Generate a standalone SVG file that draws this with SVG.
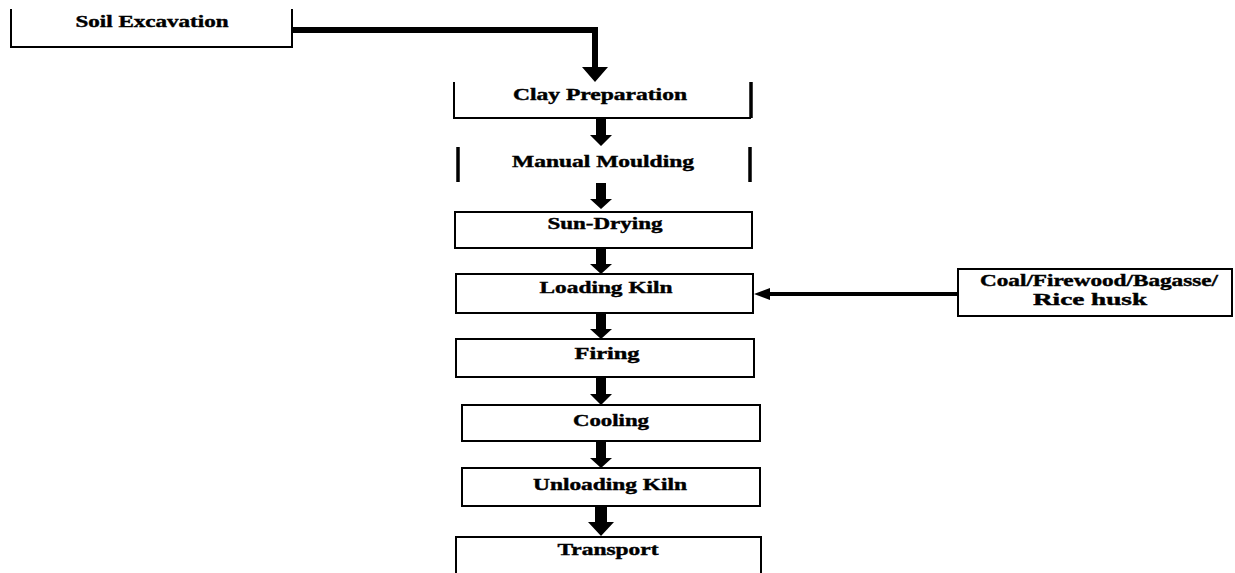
<svg xmlns="http://www.w3.org/2000/svg" width="1235" height="573" viewBox="0 0 1235 573">
<style>
  .bx{fill:none;stroke:#000;stroke-width:2}
  .thick{fill:none;stroke:#000;stroke-width:3.5}
  .t{font-family:"Liberation Serif","Times New Roman",serif;font-weight:bold;font-size:16px;fill:#000;stroke:#000;stroke-width:0.4;text-anchor:middle}
  .ar{fill:#000}
</style>
<rect width="1235" height="573" fill="#fff"/>
<g id="node-soil">
  <polyline class="bx" points="11,9 11,47 292,47 292,9"/>
  <text class="t" x="152" y="27" textLength="153" lengthAdjust="spacingAndGlyphs">Soil Excavation</text>
</g>
<g id="node-clay">
  <polyline class="bx" points="454,82 454,118 751,118"/>
  <line class="thick" x1="751" y1="82" x2="751" y2="118"/>
  <text class="t" x="600" y="100" textLength="174" lengthAdjust="spacingAndGlyphs">Clay Preparation</text>
</g>
<g id="node-moulding">
  <line class="thick" x1="458" y1="147" x2="458" y2="182"/>
  <line class="thick" x1="750" y1="147" x2="750" y2="182"/>
  <text class="t" x="603" y="167" textLength="182" lengthAdjust="spacingAndGlyphs">Manual Moulding</text>
</g>
<g id="node-sundrying">
  <rect class="bx" x="455" y="212" width="297" height="36"/>
  <text class="t" x="605" y="229" textLength="115" lengthAdjust="spacingAndGlyphs">Sun-Drying</text>
</g>
<g id="node-loading">
  <rect class="bx" x="456" y="274" width="297" height="39"/>
  <text class="t" x="606" y="293" textLength="133" lengthAdjust="spacingAndGlyphs">Loading Kiln</text>
</g>
<g id="node-fuel">
  <rect class="bx" x="958" y="269" width="274" height="47"/>
  <text class="t" x="1099" y="286" textLength="238" lengthAdjust="spacingAndGlyphs">Coal/Firewood/Bagasse/</text>
  <text class="t" x="1090" y="305" textLength="114" lengthAdjust="spacingAndGlyphs">Rice husk</text>
</g>
<g id="node-firing">
  <rect class="bx" x="456" y="339" width="298" height="38"/>
  <text class="t" x="607" y="359" textLength="65" lengthAdjust="spacingAndGlyphs">Firing</text>
</g>
<g id="node-cooling">
  <rect class="bx" x="462" y="405" width="298" height="36"/>
  <text class="t" x="611" y="426" textLength="76" lengthAdjust="spacingAndGlyphs">Cooling</text>
</g>
<g id="node-unloading">
  <rect class="bx" x="462" y="468" width="298" height="38"/>
  <text class="t" x="610" y="490" textLength="154" lengthAdjust="spacingAndGlyphs">Unloading Kiln</text>
</g>
<g id="node-transport">
  <polyline class="bx" points="456,580 456,537 761,537 761,580"/>
  <text class="t" x="608" y="555" textLength="101" lengthAdjust="spacingAndGlyphs">Transport</text>
</g>
<g id="connectors">
  <path class="ar" d="M292,27 L598,27 L598,67 L608,67 L595,82 L582,67 L592,67 L592,33 L292,33 Z"/>
  <path class="ar" d="M596,119 L606,119 L606,135 L612,135 L601,146 L590,135 L596,135 Z"/>
  <path class="ar" d="M596,183 L606,183 L606,199 L612,199 L601,209 L590,199 L596,199 Z"/>
  <path class="ar" d="M596,249 L606,249 L606,264 L612,264 L601,274 L590,264 L596,264 Z"/>
  <path class="ar" d="M596,314 L606,314 L606,329 L612,329 L601,339 L590,329 L596,329 Z"/>
  <path class="ar" d="M596,378 L606,378 L606,394 L612,394 L601,405 L590,394 L596,394 Z"/>
  <path class="ar" d="M596,442 L606,442 L606,458 L612,458 L601,468 L590,458 L596,458 Z"/>
  <path class="ar" d="M595,507 L607,507 L607,522 L614,522 L601,536 L588,522 L595,522 Z"/>
  <path class="ar" d="M958,292 L770,292 L770,288 L754,294 L770,300 L770,296 L958,296 Z"/>
</g>
</svg>
